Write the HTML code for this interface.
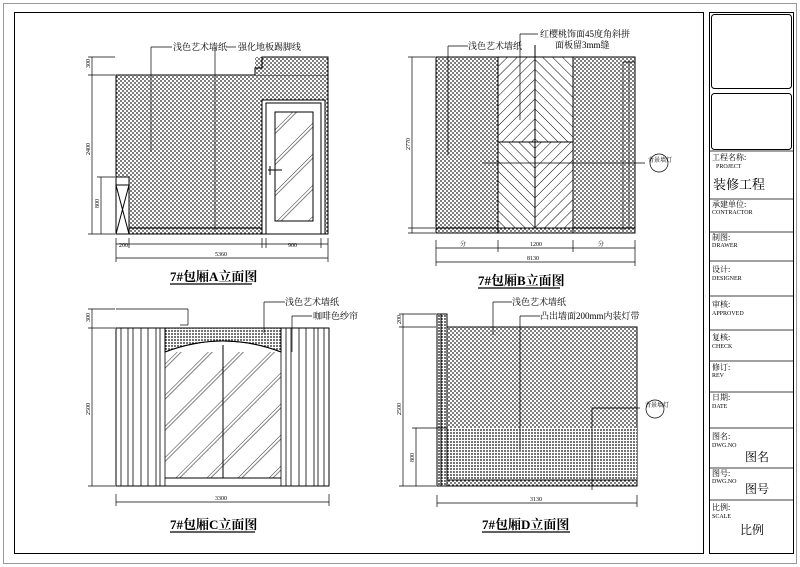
<!DOCTYPE html>
<html><head><meta charset="utf-8"><style>
html,body{margin:0;padding:0;background:#fff;}
svg{display:block;}
text{font-family:"Liberation Serif","Noto Serif CJK SC","Noto Sans CJK SC",serif;fill:#000;}
.s{font-size:9px;}
.t{font-size:8px;}
.e{font-size:6px;}
.ti{font-size:13px;font-weight:bold;}
</style></head><body>
<svg width="800" height="567" viewBox="0 0 800 567" xmlns="http://www.w3.org/2000/svg">
<defs>
<pattern id="dots" width="4" height="4" patternUnits="userSpaceOnUse">
<rect width="4" height="4" fill="#fff"/>
<circle cx="1" cy="1" r="0.9" fill="#222"/><circle cx="3" cy="3" r="0.9" fill="#222"/>
</pattern>
<pattern id="dd" width="3" height="3" patternUnits="userSpaceOnUse">
<rect width="3" height="3" fill="#fff"/>
<circle cx="1" cy="1" r="0.9" fill="#111"/>
</pattern>
<pattern id="h1" width="7" height="7" patternUnits="userSpaceOnUse" patternTransform="rotate(45)">
<rect width="7" height="7" fill="#fff"/><line x1="0" y1="0" x2="0" y2="7" stroke="#000" stroke-width="1"/>
</pattern>
<pattern id="h2" width="7" height="7" patternUnits="userSpaceOnUse" patternTransform="rotate(-45)">
<rect width="7" height="7" fill="#fff"/><line x1="0" y1="0" x2="0" y2="7" stroke="#000" stroke-width="1"/>
</pattern>
<pattern id="glass" width="22" height="22" patternUnits="userSpaceOnUse" patternTransform="rotate(45)">
<rect width="22" height="22" fill="#fff"/><line x1="0" y1="0" x2="0" y2="22" stroke="#000" stroke-width="0.8"/><line x1="3" y1="0" x2="3" y2="22" stroke="#000" stroke-width="0.5"/>
</pattern>
</defs>
<g fill="none" stroke="#000" stroke-width="1">
<rect x="3.5" y="3.5" width="793" height="560" stroke="#999"/>
<rect x="14.5" y="12.5" width="689" height="541"/>
<rect x="709.5" y="12.5" width="84" height="541"/>
<rect x="711.5" y="14.5" width="80" height="74" rx="3"/>
<rect x="711.5" y="93.5" width="80" height="56" rx="3"/>
<g stroke-width="0.8">
<line x1="710" y1="151" x2="793" y2="151"/>
<line x1="710" y1="199" x2="793" y2="199"/>
<line x1="710" y1="232" x2="793" y2="232"/>
<line x1="710" y1="261" x2="793" y2="261"/>
<line x1="710" y1="296" x2="793" y2="296"/>
<line x1="710" y1="330" x2="793" y2="330"/>
<line x1="710" y1="361" x2="793" y2="361"/>
<line x1="710" y1="392" x2="793" y2="392"/>
<line x1="710" y1="428" x2="793" y2="428"/>
<line x1="710" y1="468" x2="793" y2="468"/>
<line x1="710" y1="500" x2="793" y2="500"/>
</g>
</g>
<text class="t" x="712" y="160">工程名称:</text><text class="e" x="716" y="168">PROJECT</text>
<text x="713" y="189" style="font-size:13px">装修工程</text>
<text class="t" x="712" y="207">承建单位:</text><text class="e" x="712" y="214">CONTRACTOR</text>
<text class="t" x="712" y="240">制图:</text><text class="e" x="712" y="247">DRAWER</text>
<text class="t" x="712" y="272">设计:</text><text class="e" x="712" y="280">DESIGNER</text>
<text class="t" x="712" y="307">审核:</text><text class="e" x="712" y="315">APPROVED</text>
<text class="t" x="712" y="340">复核:</text><text class="e" x="712" y="348">CHECK</text>
<text class="t" x="712" y="370">修订:</text><text class="e" x="712" y="377">REV</text>
<text class="t" x="712" y="400">日期:</text><text class="e" x="712" y="408">DATE</text>
<text class="t" x="712" y="439">图名:</text><text class="e" x="712" y="447">DWG.NO</text>
<text x="745" y="461" style="font-size:12px">图名</text>
<text class="t" x="712" y="476">图号:</text><text class="e" x="712" y="483">DWG.NO</text>
<text x="745" y="493" style="font-size:12px">图号</text>
<text class="t" x="712" y="510">比例:</text><text class="e" x="712" y="518">SCALE</text>
<text x="740" y="534" style="font-size:12px">比例</text>

<!-- Panel A -->
<g stroke="#000" stroke-width="1">
<rect x="116" y="75" width="212" height="159" fill="url(#dots)"/>
<rect x="255" y="57" width="73" height="18" fill="url(#dots)" stroke="none"/>
<path d="M255 75 V68 H262 V57 H328 V75" fill="none"/>
<rect x="262" y="100" width="63" height="134" fill="#fff"/>
<rect x="266" y="103" width="55" height="131" fill="#fff"/>
<rect x="275" y="112" width="38" height="109" fill="url(#glass)"/>
<line x1="268" y1="170" x2="282" y2="170"/><line x1="270" y1="166" x2="270" y2="175"/>
<rect x="116" y="177" width="13" height="57" fill="#fff"/>
<line x1="116" y1="185" x2="129" y2="234"/><line x1="129" y1="185" x2="116" y2="234"/>
<line x1="116" y1="185" x2="129" y2="185"/>
<line x1="129" y1="228" x2="262" y2="228"/>
<g fill="none" stroke-width="0.7">
<line x1="92" y1="57" x2="92" y2="234"/><line x1="88" y1="57" x2="115" y2="57"/><line x1="88" y1="75" x2="115" y2="75"/><line x1="88" y1="234" x2="115" y2="234"/>
<line x1="101" y1="177" x2="101" y2="234"/><line x1="97" y1="177" x2="115" y2="177"/>
<line x1="116" y1="244" x2="328" y2="244"/><line x1="116" y1="258" x2="328" y2="258"/>
<line x1="116" y1="238" x2="116" y2="262"/><line x1="129" y1="238" x2="129" y2="248"/><line x1="262" y1="238" x2="262" y2="248"/><line x1="266" y1="238" x2="266" y2="248"/><line x1="321" y1="238" x2="321" y2="248"/><line x1="328" y1="238" x2="328" y2="262"/>
<line x1="151" y1="47" x2="151" y2="152"/><line x1="151" y1="47" x2="172" y2="47"/>
<line x1="215" y1="47" x2="215" y2="232"/><line x1="226" y1="47" x2="236" y2="47"/>
<line x1="170" y1="284" x2="252" y2="284" stroke-width="1.2"/>
</g>
</g>
<text class="s" x="173" y="50">浅色艺术墙纸</text>
<text class="s" x="238" y="50">强化地板踢脚线</text>
<text class="e" x="119" y="247">200</text><text class="e" x="215" y="256">5360</text><text class="e" x="288" y="247">900</text>
<text class="e" x="90" y="68" transform="rotate(-90 90 68)">300</text>
<text class="e" x="90" y="155" transform="rotate(-90 90 155)">2400</text>
<text class="e" x="99" y="208" transform="rotate(-90 99 208)">800</text>
<text class="ti" x="170" y="281">7#包厢A立面图</text>

<!-- Panel B -->
<g stroke="#000" stroke-width="1">
<rect x="436" y="57" width="199" height="176" fill="url(#dots)"/>
<rect x="498" y="57" width="37" height="85" fill="url(#h1)"/>
<rect x="535" y="57" width="38" height="85" fill="url(#h2)"/>
<rect x="498" y="142" width="37" height="86" fill="url(#h2)"/>
<rect x="535" y="142" width="38" height="86" fill="url(#h1)"/>
<line x1="436" y1="228" x2="635" y2="228"/>
<line x1="498" y1="57" x2="498" y2="233"/><line x1="573" y1="57" x2="573" y2="233"/><line x1="498" y1="142" x2="573" y2="142"/>
<line x1="535" y1="45" x2="535" y2="142"/>
<g fill="none" stroke-width="0.7">
<line x1="482" y1="163" x2="645" y2="163"/>
<circle cx="659" cy="163" r="9"/>
<line x1="623" y1="62" x2="623" y2="230"/><line x1="629" y1="62" x2="629" y2="230"/><line x1="623" y1="62" x2="635" y2="62"/>
<line x1="412" y1="57" x2="412" y2="233"/><line x1="408" y1="57" x2="435" y2="57"/><line x1="408" y1="228" x2="435" y2="228"/><line x1="408" y1="233" x2="435" y2="233"/>
<line x1="436" y1="248" x2="635" y2="248"/><line x1="436" y1="262" x2="635" y2="262"/>
<line x1="436" y1="240" x2="436" y2="266"/><line x1="498" y1="240" x2="498" y2="252"/><line x1="573" y1="240" x2="573" y2="252"/><line x1="635" y1="240" x2="635" y2="266"/>
<line x1="448" y1="46" x2="448" y2="155"/><line x1="448" y1="46" x2="468" y2="46"/>
<line x1="520" y1="34" x2="520" y2="120"/><line x1="520" y1="34" x2="538" y2="34"/>
<line x1="478" y1="288" x2="560" y2="288" stroke-width="1.2"/>
</g>
</g>
<text class="s" x="468" y="49">浅色艺术墙纸</text>
<text class="s" x="540" y="37">红樱桃饰面45度角斜拼</text>
<text class="s" x="555" y="48">面板留3mm缝</text>
<text class="e" x="648" y="162">背景墙灯</text>
<text class="e" x="460" y="246">分</text><text class="e" x="530" y="246">1200</text><text class="e" x="598" y="246">分</text><text class="e" x="527" y="260">8130</text>
<text class="e" x="410" y="150" transform="rotate(-90 410 150)">2770</text>
<text class="ti" x="478" y="285">7#包厢B立面图</text>

<!-- Panel C -->
<g stroke="#000" stroke-width="1">
<rect x="116" y="328" width="213" height="158" fill="#fff"/>
<path d="M165 328 H281 V352 Q223 330 165 352 Z" fill="url(#dd)"/>
<rect x="165" y="352" width="116" height="126" fill="url(#glass)" stroke="none"/>
<path d="M165 352 Q223 330 281 352" fill="none"/>
<line x1="223" y1="345" x2="223" y2="478"/>
<line x1="165" y1="478" x2="281" y2="478"/>
<g stroke-width="0.8">
<line x1="121" y1="328" x2="121" y2="486"/><line x1="128" y1="328" x2="128" y2="486"/><line x1="133" y1="328" x2="133" y2="486"/><line x1="141" y1="328" x2="141" y2="486"/><line x1="148" y1="328" x2="148" y2="486"/><line x1="156" y1="328" x2="156" y2="486"/><line x1="160" y1="328" x2="160" y2="486"/><line x1="165" y1="328" x2="165" y2="486"/>
<line x1="281" y1="328" x2="281" y2="486"/><line x1="286" y1="328" x2="286" y2="486"/><line x1="291" y1="328" x2="291" y2="486"/><line x1="299" y1="328" x2="299" y2="486"/><line x1="306" y1="328" x2="306" y2="486"/><line x1="314" y1="328" x2="314" y2="486"/><line x1="318" y1="328" x2="318" y2="486"/><line x1="324" y1="328" x2="324" y2="486"/>
</g>
<g fill="none" stroke-width="0.7">
<line x1="116" y1="309" x2="188" y2="309"/><line x1="188" y1="309" x2="188" y2="325"/><line x1="180" y1="325" x2="188" y2="325"/>
<line x1="92" y1="309" x2="92" y2="486"/><line x1="88" y1="309" x2="115" y2="309"/><line x1="88" y1="328" x2="115" y2="328"/><line x1="88" y1="486" x2="115" y2="486"/>
<line x1="116" y1="502" x2="329" y2="502"/><line x1="116" y1="494" x2="116" y2="506"/><line x1="329" y1="494" x2="329" y2="506"/>
<line x1="264" y1="302" x2="264" y2="333"/><line x1="264" y1="302" x2="285" y2="302"/>
<line x1="292" y1="316" x2="292" y2="352"/><line x1="292" y1="316" x2="312" y2="316"/>
<line x1="170" y1="532" x2="255" y2="532" stroke-width="1.2"/>
</g>
</g>
<text class="s" x="285" y="305">浅色艺术墙纸</text>
<text class="s" x="313" y="319">咖啡色纱帘</text>
<text class="e" x="215" y="500">3300</text>
<text class="e" x="90" y="322" transform="rotate(-90 90 322)">300</text>
<text class="e" x="90" y="415" transform="rotate(-90 90 415)">2500</text>
<text class="ti" x="170" y="529">7#包厢C立面图</text>

<!-- Panel D -->
<g stroke="#000" stroke-width="1">
<rect x="437" y="327" width="200" height="159" fill="url(#dots)"/>
<rect x="447" y="428" width="190" height="52" fill="url(#dd)" stroke="none"/>
<rect x="437" y="314" width="10" height="172" fill="url(#dd)"/>
<line x1="441" y1="314" x2="441" y2="486"/>
<line x1="447" y1="480" x2="637" y2="480"/>
<g fill="none" stroke-width="0.7">
<line x1="403" y1="314" x2="403" y2="486"/><line x1="399" y1="314" x2="436" y2="314"/><line x1="399" y1="327" x2="436" y2="327"/><line x1="399" y1="486" x2="436" y2="486"/>
<line x1="416" y1="428" x2="416" y2="486"/><line x1="412" y1="428" x2="447" y2="428"/>
<line x1="437" y1="503" x2="637" y2="503"/><line x1="437" y1="495" x2="437" y2="507"/><line x1="637" y1="495" x2="637" y2="507"/>
<line x1="493" y1="302" x2="493" y2="335"/><line x1="493" y1="302" x2="512" y2="302"/>
<line x1="520" y1="316" x2="520" y2="450"/><line x1="520" y1="316" x2="540" y2="316"/>
<line x1="592" y1="408" x2="592" y2="490"/><line x1="592" y1="408" x2="640" y2="408"/>
<circle cx="655" cy="409" r="9"/>
<line x1="482" y1="532" x2="570" y2="532" stroke-width="1.2"/>
</g>
</g>
<text class="s" x="512" y="305">浅色艺术墙纸</text>
<text class="s" x="540" y="319">凸出墙面200mm内装灯带</text>
<text class="e" x="645" y="407">背景墙灯</text>
<text class="e" x="530" y="501">3130</text>
<text class="e" x="401" y="324" transform="rotate(-90 401 324)">200</text>
<text class="e" x="401" y="415" transform="rotate(-90 401 415)">2500</text>
<text class="e" x="414" y="462" transform="rotate(-90 414 462)">800</text>
<text class="ti" x="482" y="529">7#包厢D立面图</text>
</svg>
</body></html>
